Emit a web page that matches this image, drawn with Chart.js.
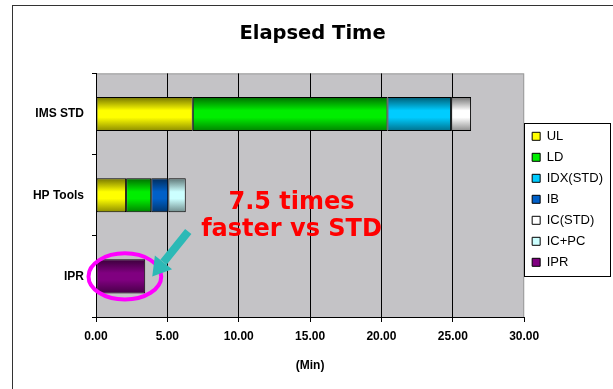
<!DOCTYPE html>
<html>
<head>
<meta charset="utf-8">
<script src="https://cdn.jsdelivr.net/npm/chart.js@4"></script>
<style>
  html, body { margin: 0; padding: 0; background: #fff; }
</style>
</head>
<body>
<canvas id="elapsed" width="613" height="389"></canvas>
<script>
// dados (minutos)
const categorias = ['IMS STD', 'HP Tools', 'IPR'];
const series = ['UL', 'LD', 'IDX(STD)', 'IB', 'IC(STD)', 'IC+PC', 'IPR'];
const valoresUL = [6.78, 2.11, null];
const valoresLD = [13.64, 1.76, null];
const valoresIDX = [4.46, null, null];
const valoresIB = [null, 1.20, null];
const valoresICSTD = [1.40, null, null];
const valoresICPC = [null, 1.22, null];
const valoresIPR = [null, null, 3.45];
const cores = ['#ffff00', '#00ee00', '#00ccff', '#0060c8', '#ffffff', '#ccffff', '#800080'];

// texto da anotacao, em coordenadas do grafico
const notaLinhas = ['7.5 times', 'faster vs STD'];
const notaX = 13.7;
const notaY = [1.09, 1.43];

const larguraBarra = 0.42;

function escurecer(hex, f) {
    const n = parseInt(hex.slice(1), 16);
    const r = Math.round(((n >> 16) & 255) * f);
    const g = Math.round(((n >> 8) & 255) * f);
    const b = Math.round((n & 255) * f);
    return `rgb(${r},${g},${b})`;
}

function preenchimento(i) {
    return function (ctx) {
        const chart = ctx.chart;
        const y = chart.scales.y;
        if (ctx.type !== 'data' || !y || !y.height) return cores[i];
        const c = y.getPixelForValue(ctx.dataIndex);
        const h = y.height / categorias.length * larguraBarra / 2;
        const g = chart.ctx.createLinearGradient(0, c - h, 0, c + h);
        g.addColorStop(0, escurecer(cores[i], 0.45));
        g.addColorStop(0.4, cores[i]);
        g.addColorStop(0.6, cores[i]);
        g.addColorStop(1, escurecer(cores[i], 0.55));
        return g;
    };
}

const listas = [valoresUL, valoresLD, valoresIDX, valoresIB, valoresICSTD, valoresICPC, valoresIPR];

const dadosTempo = {
    labels: categorias,
    datasets: series.map(function (nome, i) {
        return {
            label: nome,
            data: listas[i],
            backgroundColor: preenchimento(i),
            borderColor: '#000',
            borderWidth: 1,
            borderSkipped: false,
            barPercentage: larguraBarra,
            categoryPercentage: 1
        };
    })
};

const fonteEixo = { family: 'Liberation Sans', size: 12, weight: 'bold' };

const pluginNotas = {
    id: 'notas',
    beforeDraw(chart) {
        const ctx = chart.ctx;
        const a = chart.chartArea;
        ctx.save();
        ctx.fillStyle = '#fff';
        ctx.fillRect(0, 0, chart.width, chart.height);
        ctx.fillStyle = '#c4c3c6';
        ctx.fillRect(a.left, a.top, a.right - a.left, a.bottom - a.top);
        ctx.strokeStyle = '#9c9c9c';
        ctx.lineWidth = 1;
        ctx.strokeRect(a.left + 0.5, a.top + 0.5, a.right - a.left - 1, a.bottom - a.top);
        ctx.strokeStyle = '#333';
        ctx.strokeRect(12.5, 5.5, 800, 600);
        ctx.restore();
    },
    afterDraw(chart) {
        const ctx = chart.ctx;
        ctx.save();

        // caixa da legenda
        const hb = chart.legend.legendHitBoxes;
        if (hb && hb.length) {
            const ult = hb[hb.length - 1];
            const x1 = hb[0].left - 8;
            const y1 = hb[0].top - 7;
            ctx.strokeStyle = '#000';
            ctx.lineWidth = 1;
            ctx.strokeRect(Math.round(x1) + 0.5, Math.round(y1) + 0.5,
                chart.width - 3 - Math.round(x1), Math.round(ult.top + ult.height + 7 - y1));
        }

        // elipse em volta da barra IPR
        const barra = chart.getDatasetMeta(6).data[2];
        const p = barra.getProps(['x', 'y', 'base', 'height'], true);
        ctx.strokeStyle = '#ff00ff';
        ctx.lineWidth = 4;
        ctx.beginPath();
        ctx.ellipse((p.base + p.x) / 2 + 4, p.y, (p.x - p.base) / 2 + 12, p.height / 2 + 6, 0, 0, Math.PI * 2);
        ctx.stroke();

        // seta
        const ponta = { x: p.x + 7, y: p.y };
        const cauda = { x: p.x + 43, y: p.y - 45 };
        const ang = Math.atan2(ponta.y - cauda.y, ponta.x - cauda.x);
        const comp = 18;
        const base = { x: ponta.x - Math.cos(ang) * comp, y: ponta.y - Math.sin(ang) * comp };
        ctx.strokeStyle = '#2cb9b6';
        ctx.fillStyle = '#2cb9b6';
        ctx.lineWidth = 8;
        ctx.lineCap = 'butt';
        ctx.beginPath();
        ctx.moveTo(cauda.x, cauda.y);
        ctx.lineTo(base.x, base.y);
        ctx.stroke();
        ctx.beginPath();
        ctx.moveTo(ponta.x, ponta.y);
        ctx.lineTo(base.x + Math.sin(ang) * 11, base.y - Math.cos(ang) * 11);
        ctx.lineTo(base.x - Math.sin(ang) * 11, base.y + Math.cos(ang) * 11);
        ctx.closePath();
        ctx.fill();

        // texto vermelho
        ctx.fillStyle = '#ff0000';
        ctx.font = 'bold 24px "DejaVu Sans"';
        ctx.textAlign = 'center';
        ctx.textBaseline = 'middle';
        const tx = chart.scales.x.getPixelForValue(notaX);
        notaLinhas.forEach(function (t, i) {
            ctx.fillText(t, tx, chart.scales.y.getPixelForValue(notaY[i]));
        });
        ctx.restore();
    }
};

const configTempo = {
    type: 'bar',
    data: dadosTempo,
    plugins: [pluginNotas],
    options: {
        indexAxis: 'y',
        responsive: false,
        animation: false,
        layout: { padding: { left: 12, right: 0, top: 0, bottom: 0 } },
        plugins: {
            title: {
                display: true,
                text: 'Elapsed Time',
                color: '#000',
                font: { family: 'DejaVu Sans', size: 19.5, weight: 'bold' },
                padding: { top: 22, bottom: 28 }
            },
            legend: {
                position: 'right',
                title: { display: true, text: ' ', font: { size: 8 }, padding: 0 },
                labels: {
                    boxWidth: 8,
                    boxHeight: 8,
                    padding: 8,
                    color: '#000',
                    font: { family: 'Liberation Sans', size: 13 },
                    generateLabels: function (chart) {
                        return Chart.defaults.plugins.legend.labels.generateLabels(chart).map(function (item, i) {
                            item.fillStyle = cores[i];
                            item.strokeStyle = '#000';
                            item.lineWidth = 1;
                            return item;
                        });
                    }
                }
            },
            tooltip: { enabled: false }
        },
        scales: {
            x: {
                type: 'linear',
                stacked: true,
                min: 0,
                max: 30,
                ticks: {
                    stepSize: 5,
                    color: '#000',
                    font: fonteEixo,
                    padding: 7,
                    callback: function (v) { return v.toFixed(2); }
                },
                grid: {
                    color: function (c) { return c.tick && c.tick.value === 30 ? 'rgba(0,0,0,0)' : '#000'; },
                    tickColor: '#000',
                    tickLength: 5
                },
                border: { color: '#000' },
                title: {
                    display: true,
                    text: '(Min)',
                    color: '#000',
                    font: fonteEixo,
                    padding: { top: 0, bottom: 16 }
                },
                afterFit: function (s) { s.height = 72; }
            },
            y: {
                stacked: true,
                ticks: { color: '#000', font: fonteEixo, padding: 8 },
                grid: { drawOnChartArea: false, tickColor: '#000', tickLength: 4, offset: true },
                border: { color: '#000' },
                afterFit: function (s) { s.width = 84; }
            }
        }
    }
};

const graficoTempo = new Chart(document.getElementById('elapsed'), configTempo);
</script>
</body>
</html>
